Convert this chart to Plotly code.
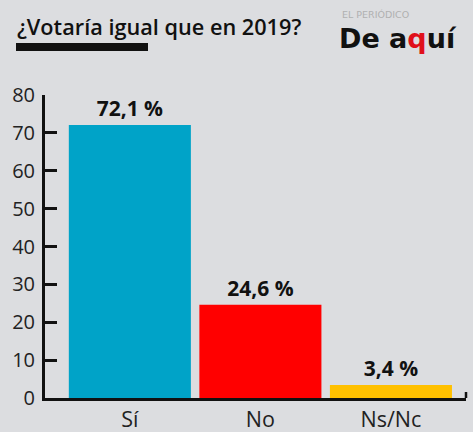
import plotly.graph_objects as go

categories = ["Sí", "No", "Ns/Nc"]
values = [72.1, 24.6, 3.4]
value_labels = ["72,1 %", "24,6 %", "3,4 %"]
colors = ["#00a3c8", "#ff0000", "#ffc000"]
y_ticks = [0, 10, 20, 30, 40, 50, 60, 70, 80]

BG = "#dcdde0"
FONT = "Open Sans"

fig = go.Figure()
fig.add_trace(go.Bar(
    x=categories, y=values, marker=dict(color=colors, line=dict(width=0)),
    text=value_labels, textposition="outside", cliponaxis=False,
    textfont=dict(family=FONT, size=21, color="#111", weight="bold"),
    width=0.935,
))

fig.update_layout(
    width=473, height=432,
    paper_bgcolor=BG, plot_bgcolor=BG,
    margin=dict(l=45, r=7, t=95, b=34, autoexpand=False),
    showlegend=False,
    font=dict(family=FONT, color="#1a1a1a"),
    xaxis=dict(
        range=[-0.65, 2.575], showgrid=False, zeroline=False, automargin=False,
        showline=True, linecolor="#111", linewidth=3,
        ticks="", tickfont=dict(size=21.5, family=FONT, color="#222"),
    ),
    yaxis=dict(
        range=[0, 80], tickvals=y_ticks, showgrid=False, zeroline=False, automargin=False,
        showline=True, linecolor="#111", linewidth=3,
        ticks="inside", ticklen=12, tickwidth=2.5, tickcolor="#111",
        ticklabelstandoff=3,
        tickfont=dict(size=20, family=FONT, color="#222"),
    ),
    annotations=[
        dict(text="¿Votaría igual que en 2019?", xref="paper", yref="paper",
             x=(15 - 45) / 421, y=1 + (95 - 26) / 303, xanchor="left", yanchor="middle",
             showarrow=False, font=dict(family=FONT, size=21.7, color="#111", weight=600)),
        dict(text="EL PERIÓDICO", xref="paper", yref="paper",
             x=(340 - 45) / 421, y=1 + (95 - 15) / 303, xanchor="left", yanchor="middle",
             showarrow=False, font=dict(family="DejaVu Sans", size=9.5, color="#b0b0b0")),
        dict(text="De a<span style='color:#e0101a'>q</span>uí", xref="paper", yref="paper",
             x=(337 - 45) / 421, y=1 + (95 - 39) / 303, xanchor="left", yanchor="middle",
             showarrow=False, font=dict(family="DejaVu Sans", size=27, color="#111", weight="bold")),
    ],
    shapes=[
        dict(type="rect", xref="paper", yref="paper",
             x0=(16 - 45) / 421, x1=(148 - 45) / 421,
             y0=1 + (95 - 51) / 303, y1=1 + (95 - 43) / 303,
             fillcolor="#111", line=dict(width=0)),
        dict(type="line", xref="paper", yref="paper", x0=1, x1=1,
             y0=0, y1=6 / 303, line=dict(color="#111", width=2.5)),
    ],
)

fig.write_html(
    "out.html",
    config={"displayModeBar": False},
    post_script="document.body.style.margin='0';document.body.style.background='#dcdde0';",
)
